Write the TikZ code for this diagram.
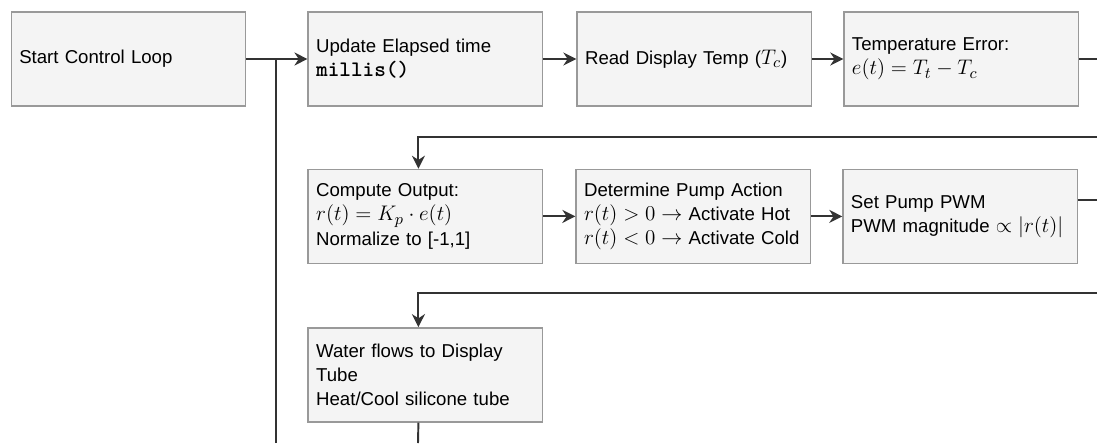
\documentclass[tikz,border=0pt]{standalone}
\usepackage[no-math]{fontspec}
\setmainfont{Liberation Sans}
\usetikzlibrary{arrows.meta,positioning}
\definecolor{boxfill}{HTML}{F4F4F4}
\definecolor{boxline}{HTML}{999999}
\definecolor{flowline}{HTML}{333333}
\newcommand{\mtxt}[1]{{\fontsize{12.6}{13.8}\selectfont$#1$}}
\newcommand{\codetxt}[1]{{\fontsize{12.6}{13.8}\selectfont\ttfamily\bfseries #1}}
\tikzset{
  stepbox/.style={draw=boxline,fill=boxfill,line width=0.8pt,minimum width=4.69cm,minimum height=1.88cm,text width=4.37cm,inner xsep=0.16cm,align=left,font=\fontsize{10.6}{13.8}\selectfont},
  flow/.style={-{Stealth[length=2.6mm,width=2.6mm]},line width=1.1pt,flowline},
  link/.style={line width=1.1pt,flowline}
}

\begin{document}
\begin{tikzpicture}
  \useasboundingbox[fill=white] (0,0) rectangle (21.94,-8.86);
  \node[stepbox] (start) at (2.57,-1.18) {Start Control Loop};
  \node[stepbox,right=1.22cm of start] (elapsed) {Update Elapsed time\\ \codetxt{millis()}};
  \node[stepbox,right=0.66cm of elapsed] (readtemp) {Read Display Temp (\mtxt{T_c})};
  \node[stepbox,right=0.62cm of readtemp] (temperr) {Temperature Error:\\ \mtxt{e(t) = T_t - T_c}};
  \node[stepbox,below=1.24cm of elapsed] (compute) {Compute Output:\\ \mtxt{r(t) = K_p \cdot e(t)}\\ Normalize to [-1,1]};
  \node[stepbox,right=0.64cm of compute] (pumpaction) {Determine Pump Action\\ \mtxt{r(t) > 0 \rightarrow} Activate Hot\\ \mtxt{r(t) < 0 \rightarrow} Activate Cold};
  \node[stepbox,right=0.62cm of pumpaction] (pumppwm) {Set Pump PWM\\ PWM magnitude \mtxt{\propto |r(t)|}};
  \node[stepbox,below=1.26cm of compute] (waterflow) {Water flows to Display\\ Tube\\ Heat/Cool silicone tube};
  \coordinate (back1) at (21.94,-2.74);
  \coordinate (back2) at (21.94,-5.86);
  \coordinate (pwmexit) at ([yshift=0.32cm]pumppwm.east);
  \coordinate (loopin) at (5.52,-8.86);
  \coordinate (waterout) at (8.36,-8.86);
  \draw[flow] (start) -- (elapsed);
  \draw[link] (loopin) -- (loopin |- start.east);
  \draw[flow] (elapsed) -- (readtemp);
  \draw[flow] (readtemp) -- (temperr);
  \draw[link] (temperr.east) -- (temperr.east -| back1);
  \draw[flow] (back1) -| ([xshift=-0.14cm]compute.north);
  \draw[flow] (compute) -- (pumpaction);
  \draw[flow] (pumpaction) -- (pumppwm);
  \draw[link] (pwmexit) -- (pwmexit -| back1);
  \draw[flow] (back2) -| ([xshift=-0.14cm]waterflow.north);
  \draw[link] ([xshift=-0.14cm]waterflow.south) -- (waterout);
\end{tikzpicture}
\end{document}
